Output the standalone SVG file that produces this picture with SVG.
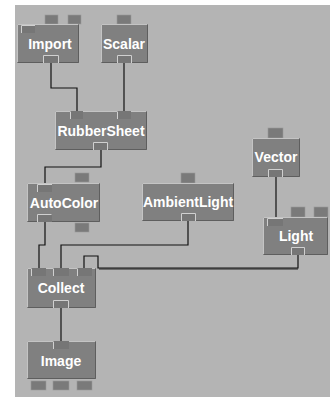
<svg xmlns="http://www.w3.org/2000/svg" width="330" height="397" viewBox="0 0 330 397">
<style>
.bg{fill:#b4b4b4}
.box{fill:#808080}
.hi{fill:none;stroke:#c4c4c4;stroke-width:1}
.sh{fill:none;stroke:#5e5e5e;stroke-width:1}
.tab{fill:#7a7a7a;stroke:#9a9a9a;stroke-width:0.6}
.in{fill:#767676}
.inhi{fill:none;stroke:#d0d0d0;stroke-width:1}
.lbl{font-family:"Liberation Sans",Arial,sans-serif;font-weight:bold;font-size:14px;fill:#ffffff;text-anchor:middle}
.wire{fill:none;stroke:#111;stroke-width:1.2}
</style>
<rect width="330" height="397" fill="#ffffff"/>
<rect class="bg" x="15" y="5" width="315" height="392"/>
<g id="connectors">
<path class="wire" d="M51,63 V88 H77 V111"/>
<path class="wire" d="M124,63 V111"/>
<path class="wire" d="M101,150 V167 H45 V183"/>
<path class="wire" d="M45,222 V245 H39 V268"/>
<path class="wire" d="M188,221 V245 H61 V268"/>
<path class="wire" d="M276,177 V217"/>
<path fill="none" stroke="#555" stroke-width="1.5" d="M99,269 H298"/>
<path class="wire" d="M298,255 V268 H98 V256 H84 V268"/>
<path class="wire" d="M61,308 V341"/>
</g>
<g id="Import">
<rect class="tab" x="45" y="15" width="13" height="9"/>
<rect class="tab" x="68" y="15" width="13" height="9"/>
<rect class="box" x="17" y="24" width="62" height="39"/>
<path class="hi" d="M17.5,62.5 V24.5 H78.5"/><path class="sh" d="M17.5,62.5 H78.5 V24.5"/>
<rect class="in" x="21" y="25" width="14" height="8"/><path class="inhi" d="M21.5,33 V25.5 H35"/>
<rect class="in" x="43" y="55" width="16" height="8"/><path class="inhi" d="M43.5,63 V55.5 H58.5 V63"/>
<text class="lbl" x="50" y="49">Import</text>
</g>
<g id="Scalar">
<rect class="tab" x="117" y="15" width="14" height="9"/>
<rect class="box" x="101" y="24" width="47" height="39"/>
<path class="hi" d="M101.5,62.5 V24.5 H147.5"/><path class="sh" d="M101.5,62.5 H147.5 V24.5"/>
<rect class="in" x="117" y="55" width="15" height="8"/><path class="inhi" d="M117.5,63 V55.5 H131.5 V63"/>
<text class="lbl" x="124" y="49">Scalar</text>
</g>
<g id="RubberSheet">
<rect class="box" x="55" y="111" width="92" height="39"/>
<path class="hi" d="M55.5,149.5 V111.5 H146.5"/><path class="sh" d="M55.5,149.5 H146.5 V111.5"/>
<rect class="in" x="70" y="111" width="13" height="8"/><path class="inhi" d="M70.5,119 V111.5"/>
<rect class="in" x="117" y="111" width="14" height="8"/><path class="inhi" d="M117.5,119 V111.5"/>
<rect class="in" x="93" y="142" width="15" height="8"/><path class="inhi" d="M93.5,150 V142.5 H107.5 V150"/>
<text class="lbl" x="101" y="136">RubberSheet</text>
</g>
<g id="AutoColor">
<rect class="tab" x="75" y="173" width="14" height="9"/>
<rect class="tab" x="75" y="223" width="14" height="9"/>
<rect class="box" x="27" y="183" width="73" height="39"/>
<path class="hi" d="M27.5,221.5 V183.5 H99.5"/><path class="sh" d="M27.5,221.5 H99.5 V183.5"/>
<rect class="in" x="37" y="184" width="15" height="8"/><path class="inhi" d="M37.5,192 V184.5 H52"/>
<rect class="in" x="37" y="214" width="15" height="8"/><path class="inhi" d="M37.5,222 V214.5 H51.5"/>
<text class="lbl" x="64" y="208">AutoColor</text>
</g>
<g id="AmbientLight">
<rect class="tab" x="181" y="173" width="14" height="10"/>
<rect class="box" x="142" y="183" width="92" height="38"/>
<path class="hi" d="M142.5,220.5 V183.5 H233.5"/><path class="sh" d="M142.5,220.5 H233.5 V183.5"/>
<rect class="in" x="181" y="213" width="15" height="8"/><path class="inhi" d="M181.5,221 V213.5 H195.5 V221"/>
<text class="lbl" x="188" y="207">AmbientLight</text>
</g>
<g id="Vector">
<rect class="tab" x="268" y="128" width="15" height="10"/>
<rect class="box" x="252" y="138" width="48" height="39"/>
<path class="hi" d="M252.5,176.5 V138.5 H299.5"/><path class="sh" d="M252.5,176.5 H299.5 V138.5"/>
<rect class="in" x="268" y="169" width="15" height="8"/><path class="inhi" d="M268.5,177 V169.5 H282.5 V177"/>
<text class="lbl" x="276" y="162">Vector</text>
</g>
<g id="Light">
<rect class="tab" x="291" y="207" width="14" height="10"/>
<rect class="tab" x="314" y="207" width="14" height="10"/>
<rect class="box" x="263" y="217" width="65" height="38"/>
<path class="hi" d="M263.5,254.5 V217.5 H327.5"/><path class="sh" d="M263.5,254.5 H327.5 V217.5"/>
<rect class="in" x="267" y="218" width="16" height="8"/><path class="inhi" d="M267.5,226 V218.5 H283"/>
<rect class="in" x="291" y="247" width="14" height="8"/><path class="inhi" d="M291.5,255 V247.5 H304.5 V255"/>
<text class="lbl" x="296" y="241">Light</text>
</g>
<g id="Collect">
<rect class="box" x="27" y="268" width="69" height="40"/>
<path class="hi" d="M27.5,307.5 V268.5 H95.5"/><path class="sh" d="M27.5,307.5 H95.5 V268.5"/>
<rect class="in" x="31" y="268" width="15" height="8"/><path class="inhi" d="M31.5,276 V268.5"/>
<rect class="in" x="53" y="268" width="16" height="8"/><path class="inhi" d="M53.5,276 V268.5"/>
<rect class="in" x="77" y="268" width="15" height="8"/><path class="inhi" d="M77.5,276 V268.5"/>
<rect class="in" x="53" y="300" width="16" height="8"/><path class="inhi" d="M53.5,308 V300.5 H68.5 V308"/>
<text class="lbl" x="61" y="293">Collect</text>
</g>
<g id="Image">
<rect class="tab" x="31" y="381" width="15" height="9"/>
<rect class="tab" x="53" y="381" width="16" height="9"/>
<rect class="tab" x="77" y="381" width="15" height="9"/>
<rect class="box" x="27" y="341" width="69" height="38"/>
<path class="hi" d="M27.5,378.5 V341.5 H95.5"/><path class="sh" d="M27.5,378.5 H95.5 V341.5"/>
<rect class="in" x="53" y="341" width="16" height="8"/><path class="inhi" d="M53.5,349 V341.5"/>
<text class="lbl" x="61" y="366">Image</text>
</g>
</svg>
